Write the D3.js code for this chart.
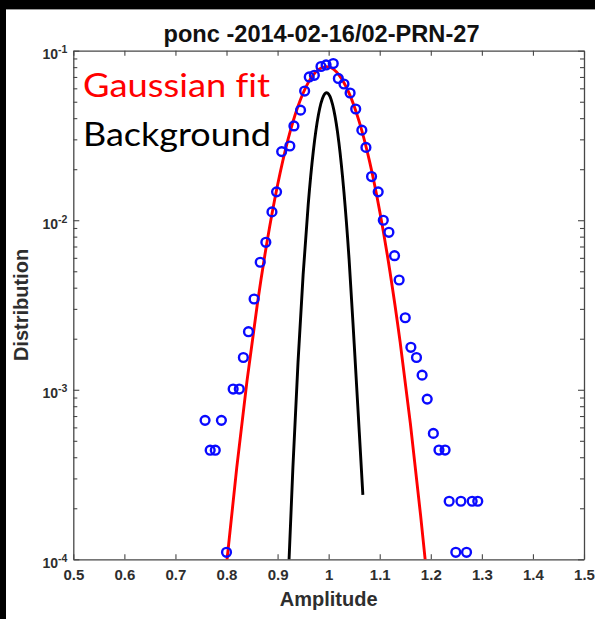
<!DOCTYPE html>
<html>
<head>
<meta charset="utf-8">
<script src="https://cdn.jsdelivr.net/npm/d3@7"></script>
<style>
  body { margin: 0; background: #fff; }
  svg { display: block; }
</style>
</head>
<body>
<svg id="chart" width="595" height="619"></svg>
<script>
// Measured amplitude distribution (blue circles)
const obsAmplitude = [
  0.800, 0.758, 0.790, 0.768, 0.778, 0.813, 0.825, 0.833, 0.843, 0.854,
  0.866, 0.877, 0.889, 0.898, 0.908, 0.924, 0.932, 0.945, 0.953, 0.962,
  0.972, 0.985, 0.995, 1.009, 1.019, 1.030, 1.042, 1.053, 1.065, 1.073,
  1.084, 1.097, 1.107, 1.118, 1.129, 1.138, 1.150, 1.161, 1.172, 1.183,
  1.193, 1.205, 1.216, 1.228, 1.236, 1.259, 1.281, 1.292, 1.249, 1.270
];
const obsDistribution = [
  1.10e-4, 6.6e-4, 6.6e-4, 4.4e-4, 4.4e-4, 1.01e-3, 1.01e-3, 1.55e-3, 2.20e-3, 3.43e-3,
  5.65e-3, 7.41e-3, 1.12e-2, 1.47e-2, 2.54e-2, 2.74e-2, 3.60e-2, 4.46e-2, 5.78e-2, 7.00e-2,
  7.16e-2, 8.07e-2, 8.24e-2, 8.40e-2, 6.86e-2, 6.36e-2, 5.63e-2, 4.53e-2, 3.40e-2, 2.69e-2,
  1.81e-2, 1.47e-2, 1.00e-2, 8.49e-3, 6.18e-3, 4.44e-3, 2.66e-3, 1.78e-3, 1.55e-3, 1.22e-3,
  8.81e-4, 5.53e-4, 4.41e-4, 4.41e-4, 2.20e-4, 2.20e-4, 2.20e-4, 2.20e-4, 1.10e-4, 1.10e-4
];

// Gaussian fit (red curve)
const fitAmplitude = [
  0.80, 0.82, 0.84, 0.86, 0.88, 0.90, 0.92, 0.94, 0.96, 0.98, 0.995,
  1.00, 1.02, 1.04, 1.06, 1.08, 1.10, 1.12, 1.14, 1.16, 1.18, 1.19
];
const fitDistribution = [
  9.3e-5, 3.46e-4, 1.12e-3, 3.14e-3, 7.65e-3, 1.615e-2, 2.96e-2, 4.70e-2, 6.48e-2, 7.74e-2, 8.05e-2,
  8.02e-2, 7.21e-2, 5.62e-2, 3.80e-2, 2.23e-2, 1.13e-2, 4.99e-3, 1.91e-3, 6.33e-4, 1.82e-4, 9.3e-5
];

// Background distribution (black curve)
const bgAmplitude = [
  0.92, 0.93, 0.94, 0.95, 0.96, 0.97, 0.98, 0.99, 0.996,
  1.00, 1.01, 1.02, 1.03, 1.04, 1.05, 1.06, 1.067
];
const bgDistribution = [
  6.6e-5, 3.48e-4, 1.45e-3, 4.76e-3, 1.24e-2, 2.56e-2, 4.19e-2, 5.42e-2, 5.65e-2,
  5.55e-2, 4.49e-2, 2.88e-2, 1.46e-2, 5.89e-3, 1.87e-3, 5.6e-4, 2.4e-4
];

// Axis ticks and labels
const xTicks = [0.5, 0.6, 0.7, 0.8, 0.9, 1.0, 1.1, 1.2, 1.3, 1.4, 1.5];
const yMajorTicks = [1e-4, 1e-3, 1e-2, 1e-1];
const yExponents = ["-4", "-3", "-2", "-1"];
const yMinorMultipliers = [2, 3, 4, 5, 6, 7, 8, 9];

const titleText = "ponc -2014-02-16/02-PRN-27";
const xLabel = "Amplitude";
const yLabel = "Distribution";
const legendLabels = ["Gaussian fit", "Background"];

// ---------------------------------------------------------------
const svg = d3.select("#chart");
const W = 595, H = 619;
const plot = { left: 73.3, right: 584, top: 50.7, bottom: 559.3 };
const axisColor = "#474747";
const labelColor = "#2e2e2e";
const sans = "'Liberation Sans', Arial, sans-serif";

// window frame
svg.append("rect").attr("width", W).attr("height", H).attr("fill", "#fff");
svg.append("rect").attr("x", 0).attr("y", 0).attr("width", W).attr("height", 9).attr("fill", "#000");
svg.append("rect").attr("x", 0).attr("y", 0).attr("width", 6).attr("height", H).attr("fill", "#000");
svg.append("line").attr("x1", 6).attr("x2", W).attr("y1", 9.5).attr("y2", 9.5)
  .attr("stroke", "#9a9a9a").attr("stroke-width", 1);

const x = d3.scaleLinear().domain([0.5, 1.5]).range([plot.left, plot.right]);
const y = d3.scaleLog().domain([1e-4, 1e-1]).range([plot.bottom, plot.top]);

const yMinorTicks = [];
yMajorTicks.slice(0, -1).forEach(d => yMinorMultipliers.forEach(m => yMinorTicks.push(+(d * m).toPrecision(3))));

function styleAxis(g, keepDomain) {
  g.selectAll("line").attr("stroke", axisColor).attr("stroke-width", 1.1);
  g.select(".domain").attr("stroke", axisColor).attr("stroke-width", 1.3);
  if (!keepDomain) g.select(".domain").remove();
}

// bottom axis with labels
const fmtX = d => String(+d.toFixed(1));
const gB = svg.append("g").attr("transform", `translate(0,${plot.bottom})`)
  .call(d3.axisBottom(x).tickValues(xTicks).tickSize(-5).tickSizeOuter(0).tickPadding(10).tickFormat(fmtX));
styleAxis(gB, true);
gB.selectAll("text").attr("font-family", sans).attr("font-size", 15).attr("font-weight", "bold")
  .attr("fill", labelColor);

// top axis
const gT = svg.append("g").attr("transform", `translate(0,${plot.top})`)
  .call(d3.axisTop(x).tickValues(xTicks).tickSize(-5).tickSizeOuter(0).tickFormat(""));
styleAxis(gT, true);

// left axis: major with power-of-ten labels, then minor
const gL = svg.append("g").attr("transform", `translate(${plot.left},0)`)
  .call(d3.axisLeft(y).tickValues(yMajorTicks).tickSize(-6).tickSizeOuter(0).tickFormat(""));
styleAxis(gL, true);
gL.selectAll(".tick").each(function (d, i) {
  const t = d3.select(this).append("text")
    .attr("x", -6).attr("y", 8).attr("text-anchor", "end")
    .attr("font-family", sans).attr("font-weight", "bold").attr("fill", labelColor);
  t.append("tspan").attr("font-size", 14).text("10");
  t.append("tspan").attr("font-size", 10.5).attr("dy", -6).text(yExponents[i]);
});
const gLm = svg.append("g").attr("transform", `translate(${plot.left},0)`)
  .call(d3.axisLeft(y).tickValues(yMinorTicks).tickSize(-4).tickSizeOuter(0).tickFormat(""));
styleAxis(gLm, false);

// right axis
const gR = svg.append("g").attr("transform", `translate(${plot.right},0)`)
  .call(d3.axisRight(y).tickValues(yMajorTicks).tickSize(-6).tickSizeOuter(0).tickFormat(""));
styleAxis(gR, true);
const gRm = svg.append("g").attr("transform", `translate(${plot.right},0)`)
  .call(d3.axisRight(y).tickValues(yMinorTicks).tickSize(-4).tickSizeOuter(0).tickFormat(""));
styleAxis(gRm, false);

// clip for curves
svg.append("clipPath").attr("id", "plotClip").append("rect")
  .attr("x", plot.left).attr("y", plot.top)
  .attr("width", plot.right - plot.left).attr("height", plot.bottom - plot.top);

const line = d3.line().x(d => x(d[0])).y(d => y(d[1])).curve(d3.curveMonotoneX);

const fitData = fitAmplitude.map((a, i) => [a, fitDistribution[i]]);
const bgData = bgAmplitude.map((a, i) => [a, bgDistribution[i]]);
const obsData = obsAmplitude.map((a, i) => [a, obsDistribution[i]]);

const curves = svg.append("g").attr("clip-path", "url(#plotClip)");

// data circles
svg.append("g").selectAll("circle").data(obsData).join("circle")
  .attr("cx", d => x(d[0])).attr("cy", d => y(d[1])).attr("r", 4.4)
  .attr("fill", "none").attr("stroke", "#0a0aff").attr("stroke-width", 2.4);

curves.append("path").datum(bgData).attr("d", line)
  .attr("fill", "none").attr("stroke", "#000").attr("stroke-width", 2.9)
  .attr("stroke-linejoin", "round");
curves.append("path").datum(fitData).attr("d", line)
  .attr("fill", "none").attr("stroke", "#ff0000").attr("stroke-width", 2.9)
  .attr("stroke-linejoin", "round");

// legend text
const legendFont = "Lato, 'Open Sans', sans-serif";
svg.append("text").attr("x", 83).attr("y", 97).attr("font-family", legendFont)
  .attr("font-size", 32).attr("fill", "#ff0000").style("font-variant-ligatures", "none")
  .attr("textLength", 187).attr("lengthAdjust", "spacingAndGlyphs").text(legendLabels[0]);
svg.append("text").attr("x", 83).attr("y", 146).attr("font-family", legendFont)
  .attr("font-size", 32).attr("fill", "#000").style("font-variant-ligatures", "none")
  .attr("textLength", 188).attr("lengthAdjust", "spacingAndGlyphs").text(legendLabels[1]);

// title and axis labels
svg.append("text").attr("x", 321.5).attr("y", 41.5).attr("text-anchor", "middle")
  .attr("font-family", sans).attr("font-weight", "bold").attr("font-size", 23).attr("fill", "#111")
  .attr("textLength", 316).attr("lengthAdjust", "spacingAndGlyphs").text(titleText);

svg.append("text").attr("x", (plot.left + plot.right) / 2).attr("y", 606).attr("text-anchor", "middle")
  .attr("font-family", sans).attr("font-weight", "bold").attr("font-size", 20).attr("fill", labelColor)
  .text(xLabel);

svg.append("text").attr("transform", `translate(28,${(plot.top + plot.bottom) / 2}) rotate(-90)`)
  .attr("text-anchor", "middle")
  .attr("font-family", sans).attr("font-weight", "bold").attr("font-size", 20).attr("fill", labelColor)
  .text(yLabel);
</script>
</body>
</html>
